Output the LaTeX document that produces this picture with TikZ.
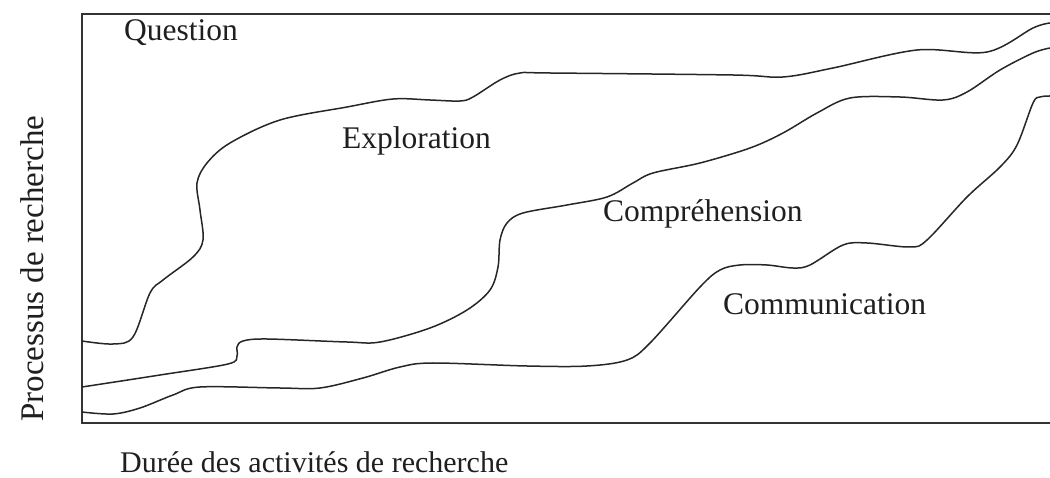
\documentclass[tikz,border=0pt]{standalone}
\usepackage{fontspec}
\setmainfont{Liberation Serif}
\begin{document}
\begin{tikzpicture}[x=1pt,y=-1pt,
  lbl/.style={inner sep=0pt,anchor=base west,text=black!88,font=\fontsize{31.5}{36}\selectfont},
  axislbl/.style={inner sep=0pt,anchor=base west,text=black!88,font=\fontsize{30}{36}\selectfont},
  frameline/.style={draw=black!80,line width=2pt},
  curve/.style={draw=black!85,line width=1.5pt,smooth,tension=0.55}]
\useasboundingbox (0,0) rectangle (1050,478);
% frame
\draw[frameline] (1050,14) -- (82,14) -- (82,423) -- (1050,423);
% curves
\draw[curve] plot coordinates {(82,341) (113,344) (133,337) (150,293) (163,280) (193,257) (203,240) (200,210) (197,183) (207,163) (230,143) (280,120) (347,107) (393,99) (430,100) (460,101) (473,97) (500,80) (520,73) (550,73) (733,75) (783,77) (833,68) (917,50) (987,52) (1033,28) (1050,23)};
\draw[curve] plot coordinates {(82,387) (160,375) (228,364) (237,356) (237,347) (243,341) (267,339) (347,342) (380,342) (430,328) (467,310) (490,290) (498,267) (500,240) (507,223) (523,213) (567,205) (607,197) (633,183) (653,173) (700,163) (750,148) (783,133) (817,113) (850,98) (900,97) (943,100) (967,92) (1000,70) (1033,53) (1050,48)};
\draw[curve] plot coordinates {(82,412) (113,414) (140,408) (173,395) (200,387) (280,388) (320,388) (363,378) (400,367) (433,363) (527,366) (587,366) (627,360) (650,343) (700,287) (720,270) (740,265) (767,265) (793,268) (810,265) (843,245) (867,243) (910,247) (927,240) (967,197) (1000,167) (1017,145) (1033,103) (1040,97) (1050,96)};
% labels
\node[lbl] (q) at (124,41) {Question};
\node[lbl] (e) at (342,149) {Exploration};
\node[lbl] (c) at (603,222) {Compréhension};
\node[lbl] (m) at (723,315) {Communication};
\node[axislbl] (x) at (120,472) {Durée des activités de recherche};
\node[lbl,rotate=90,font=\fontsize{33}{38}\selectfont] (y) at (43,422) {Processus de recherche};
\end{tikzpicture}
\end{document}
